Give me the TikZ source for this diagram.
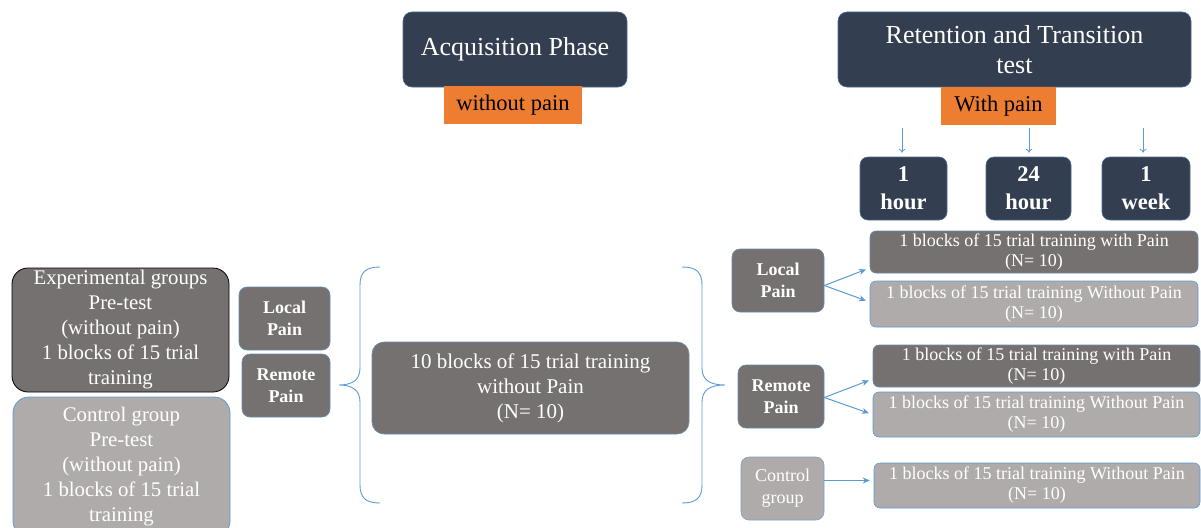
\documentclass[tikz,border=0pt]{standalone}
\usepackage{fontspec}
\setmainfont{Liberation Serif}
\usetikzlibrary{arrows.meta}
\definecolor{navy}{HTML}{333F50}
\definecolor{darkgrey}{HTML}{767171}
\definecolor{lightgrey}{HTML}{AFABAB}
\definecolor{painorange}{HTML}{ED7D31}
\definecolor{linkblue}{HTML}{5B9BD5}
\newcommand{\fsz}[2]{\fontsize{#1}{#2}\selectfont}

\begin{document}
\begin{tikzpicture}
[every node/.style={inner sep=0pt, align=center},
 phase/.style={rounded corners=9pt, fill=navy, draw=linkblue!50!navy, line width=0.6pt, text=white, font=\fsz{26}{30}},
 painbar/.style={fill=painorange, text=black, font=\fsz{22.5}{26}},
 timebox/.style={rounded corners=8pt, fill=navy, draw=linkblue!50!navy, line width=0.6pt, text=white, font=\fsz{22.5}{28}\bfseries},
 groupdark/.style={rounded corners=16pt, fill=darkgrey, draw=black, line width=0.8pt, text=white, font=\fsz{20.8}{25}},
 grouplight/.style={rounded corners=16pt, fill=lightgrey, draw=linkblue, line width=0.8pt, text=white, font=\fsz{20.8}{25}},
 paindark/.style={rounded corners=8pt, fill=darkgrey, draw=linkblue!60!darkgrey, line width=0.6pt, text=white, font=\fsz{18}{22}\bfseries},
 painlight/.style={rounded corners=8pt, fill=lightgrey, draw=linkblue!60!lightgrey, line width=0.6pt, text=white, font=\fsz{18}{22}},
 trainbox/.style={rounded corners=12pt, fill=darkgrey, draw=linkblue!60!darkgrey, line width=0.6pt, text=white, font=\fsz{21}{25}},
 resultdark/.style={rounded corners=6pt, fill=darkgrey, draw=linkblue!60!darkgrey, line width=0.6pt, text=white, font=\fsz{18}{20}},
 resultlight/.style={rounded corners=6pt, fill=lightgrey, draw=linkblue, line width=0.6pt, text=white, font=\fsz{18}{20}},
 link/.style={line width=1pt, color=linkblue, -{Stealth[length=7pt,width=6pt]}, shorten >=4pt},
 tick/.style={line width=0.8pt, color=linkblue, -{To[length=4pt,width=7pt]}, shorten >=4pt},
 brace/.style={line width=0.9pt, color=linkblue}]
\useasboundingbox (0pt,0pt) rectangle (1201pt,-527pt);
% headers
\node (acq) [phase, minimum width=224pt, minimum height=75pt] at (515pt, -49.5pt) {Acquisition Phase};
\node (nopain) [painbar, minimum width=138pt, minimum height=38pt] at (513pt, -105pt) {without pain};
\node (ret) [phase, minimum width=353pt, minimum height=75pt] at (1014.5pt, -49.5pt) {Retention and Transition\\test};
\node (withpain) [painbar, minimum width=115pt, minimum height=38pt] at (998.5pt, -106pt) {With pain};
% retention delays
\node (hour1) [timebox, minimum width=87pt, minimum height=63pt] at (903.5pt, -188.5pt) {1\\hour};
\node (hour24) [timebox, minimum width=85pt, minimum height=63pt] at (1028.5pt, -188.5pt) {24\\hour};
\node (week1) [timebox, minimum width=88pt, minimum height=63pt] at (1146pt, -188.5pt) {1\\week};
\coordinate (d1) at (902pt, -128pt);
\coordinate (d24) at (1029pt, -128pt);
\coordinate (dw) at (1143pt, -128pt);
\draw [tick] (d1) -- (d1 |- hour1.north);
\draw [tick] (d24) -- (d24 |- hour24.north);
\draw [tick] (dw) -- (dw |- week1.north);
% pre-test groups
\node (expgrp) [groupdark, minimum width=217pt, minimum height=124pt] at (120.5pt, -330pt) {Experimental groups\\Pre-test\\(without pain)\\1 blocks of 15 trial\\training};
\node (ctrlgrp) [grouplight, minimum width=217pt, minimum height=140pt] at (121.5pt, -467pt) {Control group\\Pre-test\\(without pain)\\1 blocks of 15 trial\\training};
\node (localL) [paindark, minimum width=91pt, minimum height=63pt] at (284.5pt, -318.5pt) {Local\\Pain};
\node (remoteL) [paindark, minimum width=88pt, minimum height=63pt] at (286pt, -385.5pt) {Remote\\Pain};
% acquisition
\node (train) [trainbox, minimum width=317pt, minimum height=92pt] at (530.5pt, -388pt) {10 blocks of 15 trial training\\without Pain\\(N= 10)};
\draw [brace] (380pt,-267pt) .. controls (366pt,-267pt) and (360pt,-272pt) .. (360pt,-285pt) -- (360pt,-368pt) .. controls (360pt,-380pt) and (352pt,-385pt) .. (339pt,-385pt) .. controls (352pt,-385pt) and (360pt,-390pt) .. (360pt,-402pt) -- (360pt,-485pt) .. controls (360pt,-498pt) and (366pt,-503pt) .. (380pt,-503pt);
\draw [brace] (682pt,-267pt) .. controls (696pt,-267pt) and (702pt,-272pt) .. (702pt,-285pt) -- (702pt,-368pt) .. controls (702pt,-380pt) and (710pt,-385pt) .. (725pt,-385pt) .. controls (710pt,-385pt) and (702pt,-390pt) .. (702pt,-402pt) -- (702pt,-485pt) .. controls (702pt,-498pt) and (696pt,-503pt) .. (682pt,-503pt);
% retention groups
\node (localR) [paindark, minimum width=92pt, minimum height=63pt] at (778pt, -280.5pt) {Local\\Pain};
\node (remoteR) [paindark, minimum width=86pt, minimum height=63pt] at (781pt, -396.5pt) {Remote\\Pain};
\node (ctrlR) [painlight, minimum width=83pt, minimum height=63pt] at (782.5pt, -488.5pt) {Control\\group};
\node (res1) [resultdark, minimum width=328pt, minimum height=42pt] at (1034pt, -252pt) {1 blocks of 15 trial training with Pain\\(N= 10)};
\node (res2) [resultlight, minimum width=328pt, minimum height=46pt] at (1034pt, -304pt) {1 blocks of 15 trial training Without Pain\\(N= 10)};
\node (res3) [resultdark, minimum width=327pt, minimum height=42pt] at (1036.5pt, -366pt) {1 blocks of 15 trial training with Pain\\(N= 10)};
\node (res4) [resultlight, minimum width=327pt, minimum height=45pt] at (1036.5pt, -414.5pt) {1 blocks of 15 trial training Without Pain\\(N= 10)};
\node (res5) [resultlight, minimum width=326pt, minimum height=45pt] at (1037pt, -485.5pt) {1 blocks of 15 trial training Without Pain\\(N= 10)};
\draw [link] ([yshift=-5pt]localR.east) -- ([yshift=-16pt]res1.west);
\draw [link] ([yshift=-5pt]localR.east) -- ([yshift=2pt]res2.west);
\draw [link] ([yshift=-1pt]remoteR.east) -- ([yshift=-13pt]res3.west);
\draw [link] ([yshift=-1pt]remoteR.east) -- (res4.west);
\draw [link] ([yshift=8pt]ctrlR.east) -- ([yshift=8pt]ctrlR.east -| res5.west);
\end{tikzpicture}
\end{document}
